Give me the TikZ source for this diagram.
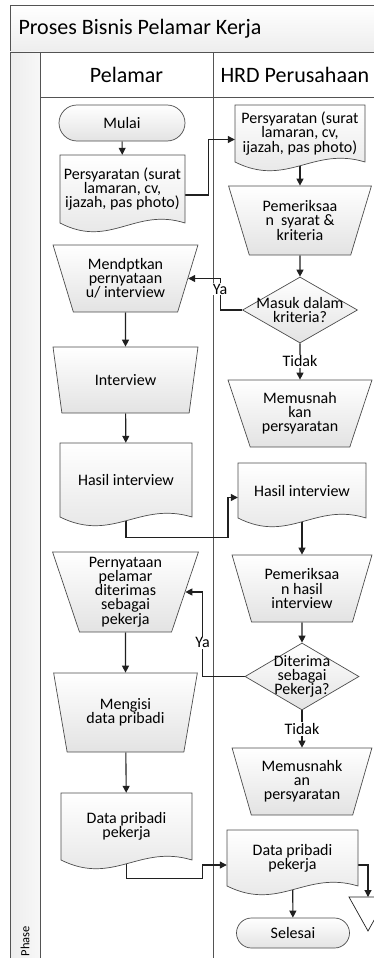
\documentclass[tikz,border=0pt]{standalone}
\usepackage{fontspec}
\setmainfont{Carlito}
\usetikzlibrary{shapes.geometric,shapes.misc,arrows.meta}

\pgfdeclarelayer{lanes}
\pgfdeclarelayer{links}
\pgfsetlayers{lanes,links,main}

\newcommand{\bodyfont}{\fontsize{16}{14.2}\selectfont}
\newcommand{\headfont}{\fontsize{22}{24}\selectfont}

\tikzset{
	lane/.style={draw=gray!65!black, line width=0.9pt},
	shade/.style={draw=gray!60!black, line width=0.7pt, top color=white, bottom color=gray!22},
	terminal/.style 2 args={shade, rounded rectangle, minimum width=#1, minimum height=#2, inner sep=0pt, font=\bodyfont},
	manual/.style n args={3}{shade, trapezium, trapezium stretches=true, shape border rotate=180, trapezium angle=#3, minimum width=#1, minimum height=#2, inner sep=0pt, align=center, font=\bodyfont},
	decision/.style 2 args={shade, diamond, minimum width=#1, minimum height=#2, inner sep=0pt},
	link/.style={draw=gray!25!black, line width=1.1pt, -{Triangle[length=7pt,width=7pt]}},
	tag/.style={fill=white, inner sep=1pt, font=\bodyfont}
}

\newcommand{\docnode}[6]{%
	\path[shade] (#2,#3) -- (#4,#3) -- (#4,#5)
		.. controls ({#2+0.6*(#4-#2)},{#5-16}) and ({#2+0.4*(#4-#2)},{#5+26}) .. (#2,#5) -- cycle;
	\node[inner sep=0pt, minimum width={(#4-#2)*1pt}, minimum height={(#5-#3)*1pt}, align=center, font=\bodyfont] (#1) at ({(#2+#4)/2},{(#3+#5)/2}) {#6};
}

\begin{document}
\begin{tikzpicture}[x=1pt, y=-1pt]
	\useasboundingbox (0,0) rectangle (374,958);

	\begin{pgfonlayer}{lanes}
		\draw[lane, top color=white, bottom color=gray!14] (10,5) rectangle (400,52);
		\draw[lane, left color=gray!14, right color=gray!6] (10,52) rectangle (40,990);
		\draw[lane] (40,52) rectangle (213,990);
		\draw[lane] (213,52) rectangle (400,990);
		\draw[lane] (40,97) -- (400,97);
		\node[anchor=west, font=\headfont] (title) at (15,29) {Proses Bisnis Pelamar Kerja};
		\node[font=\headfont] (pelamar) at (126.5,75) {Pelamar};
		\node[anchor=west, font=\headfont] (hrd) at (217,75) {HRD Perusahaan};
		\node[rotate=90, font=\fontsize{12.5}{14}\selectfont] (phase) at (25,941) {Phase};
	\end{pgfonlayer}

	\node[terminal={126}{36}] (mulai) at (122,123) {Mulai};
	\docnode{doc1}{60}{155}{185}{223}{Persyaratan (surat\\lamaran, cv,\\ijazah, pas photo)}
	\docnode{doc2}{235}{105}{365}{162}{Persyaratan (surat\\lamaran, cv,\\ijazah, pas photo)}
	\node[manual={143}{69}{69}] (t1) at (300,220.5) {Pemeriksaa\\n\ \ syarat \&\\kriteria};
	\node[decision={115}{66}, label={[font=\bodyfont, align=center]center:{Masuk dalam\\kriteria?}}] (d1) at (300,310) {};
	\node[manual={145}{67}{69}] (t2) at (125.5,278.5) {Mendptkan\\pernyataan\\u/ interview};
	\node[manual={145}{66}{69}] (t3) at (125.5,380) {Interview};
	\node[manual={144}{67}{68}] (t4) at (300,413.5) {Memusnah\\kan\\persyaratan};
	\docnode{doc3}{60}{443}{192}{517}{Hasil interview}
	\docnode{doc4}{238}{463}{366}{518}{Hasil interview}
	\node[manual={146}{80}{73}] (t5) at (125.5,592) {Pernyataan\\pelamar\\diterimas\\sebagai\\pekerja};
	\node[manual={140}{67}{70}] (t6) at (302,588.5) {Pemeriksaa\\n hasil\\interview};
	\node[decision={114}{67}, label={[font=\bodyfont, align=center]center:{Diterima\\sebagai\\Pekerja?}}] (d2) at (302,676.5) {};
	\node[manual={145}{79}{72}] (t7) at (125.5,712.5) {Mengisi\\data pribadi};
	\node[manual={140}{67}{70}] (t8) at (302,781.5) {Memusnahk\\an\\persyaratan};
	\docnode{doc5}{61}{793}{192}{860}{Data pribadi\\pekerja}
	\docnode{doc6}{227}{830}{358}{886}{Data pribadi\\pekerja}
	\node[terminal={113}{30}] (selesai) at (293,933) {Selesai};
	\draw[draw=gray!25!black, line width=0.7pt, fill=white] (349,897) -- (387,897) -- (368,931) -- cycle;
	\coordinate (merge) at (368,897);

	\begin{pgfonlayer}{links}
		\draw[link] (mulai) -- (doc1);
		\draw[link] ([yshift=-6pt]doc1.east) -- ++(23,0) |- ([yshift=-6pt]doc2.west);
		\draw[link] (doc2) -- (t1);
		\draw[link] (t1) -- (d1);
		\draw[link] (d1.west) -- ++(-22,0) |- node[tag, pos=0.33] {Ya} (t2.east);
		\draw[link] (t2) -- (t3);
		\draw[link] (d1) -- node[tag] {Tidak} (t4);
		\draw[link] (t3) -- (doc3);
		\draw[link] (doc3.south) -- ++(0,20) -- ++(102,0) |- ([yshift=-7pt]doc4.west);
		\draw[link] (doc4) -- (t6);
		\draw[link] (t6) -- (d2);
		\draw[link] (d2.west) -- ++(-42,0) |- node[tag, pos=0.2] {Ya} (t5.east);
		\draw[link] (t5) -- (t7);
		\draw[link] (d2) -- node[tag] {Tidak} (t8);
		\draw[link] (t7) -- (doc5);
		\draw[link] (doc5.south) -- ++(0,18) -- ++(76,0) |- ([yshift=-7pt]doc6.west);
		\draw[link] ([yshift=-7pt]doc6.east) -| (merge);
		\draw[link] (doc6) -- (selesai);
	\end{pgfonlayer}
\end{tikzpicture}
\end{document}
